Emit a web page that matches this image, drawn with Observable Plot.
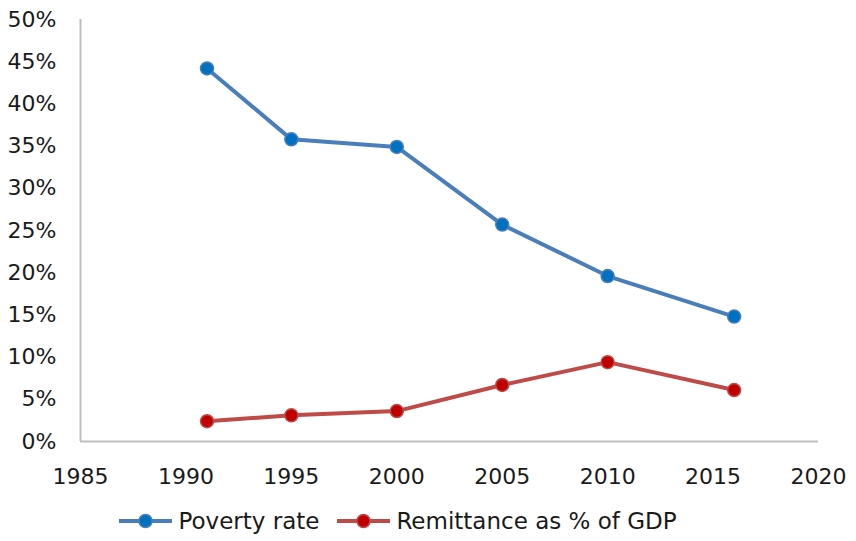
<!DOCTYPE html>
<html>
<head>
<meta charset="utf-8">
<script src="https://cdn.jsdelivr.net/npm/d3@7"></script>
<script src="https://cdn.jsdelivr.net/npm/@observablehq/plot@0.6"></script>
<style>
  html, body { margin: 0; padding: 0; background: #fff; }
  body { width: 856px; height: 541px; overflow: hidden; font-family: "DejaVu Sans", sans-serif; }
  #legend { display: flex; justify-content: center; align-items: center; gap: 18px; font-size: 23px; color: #1a1a1a; margin-top: 18px; padding-right: 60px; }
  .item { display: flex; align-items: center; gap: 6px; }
</style>
</head>
<body>
<div id="chart"></div>
<div id="legend"></div>
<script>
const years = [1991, 1995, 2000, 2005, 2010, 2016];
const povertyRate = [44.2, 35.8, 34.9, 25.7, 19.6, 14.8];
const remittance = [2.4, 3.1, 3.6, 6.7, 9.4, 6.1];
const seriesNames = ["Poverty rate", "Remittance as % of GDP"];
const lineColors = ["#4A7EBB", "#BE4B48"];
const dotColors = ["#0070C0", "#C00000"];
const xTicks = [1985, 1990, 1995, 2000, 2005, 2010, 2015, 2020];
const yTicks = [0, 5, 10, 15, 20, 25, 30, 35, 40, 45, 50];

const data = [
  ...years.map((y, i) => ({year: y, value: povertyRate[i], series: seriesNames[0]})),
  ...years.map((y, i) => ({year: y, value: remittance[i], series: seriesNames[1]}))
];

const chart = Plot.plot({
  width: 856,
  height: 490,
  marginTop: 19,
  marginBottom: 49,
  marginLeft: 80,
  marginRight: 38,
  style: {fontFamily: "DejaVu Sans, sans-serif", color: "#1a1a1a", background: "#fff"},
  x: {domain: [1985, 2020], label: null},
  y: {domain: [0, 50], label: null},
  color: {domain: seriesNames, range: lineColors},
  marks: [
    Plot.axisX({ticks: xTicks, tickFormat: d => String(d), tickSize: 0, tickPadding: 27, fontSize: 22, label: null}),
    Plot.axisY({ticks: yTicks, tickFormat: d => d + "%", tickSize: 0, tickPadding: 24, fontSize: 22, label: null}),
    Plot.ruleY([0], {stroke: "#BFBFBF", strokeWidth: 2}),
    Plot.ruleX([1985], {stroke: "#BFBFBF", strokeWidth: 2}),
    Plot.line(data, {x: "year", y: "value", z: "series", stroke: "series", strokeWidth: 4}),
    Plot.dot(data, {x: "year", y: "value", r: 6.5, fill: d => dotColors[seriesNames.indexOf(d.series)],
      stroke: d => lineColors[seriesNames.indexOf(d.series)], strokeWidth: 1.5})
  ]
});
document.getElementById("chart").appendChild(chart);

const legend = document.getElementById("legend");
seriesNames.forEach((name, i) => {
  const item = document.createElement("div");
  item.className = "item";
  item.innerHTML = `<svg width="53" height="20"><line x1="0" y1="10" x2="53" y2="10" stroke="${lineColors[i]}" stroke-width="4"/><circle cx="26.5" cy="10" r="6.5" fill="${dotColors[i]}" stroke="${lineColors[i]}" stroke-width="1.5"/></svg><span>${name}</span>`;
  legend.appendChild(item);
});
</script>
</body>
</html>
